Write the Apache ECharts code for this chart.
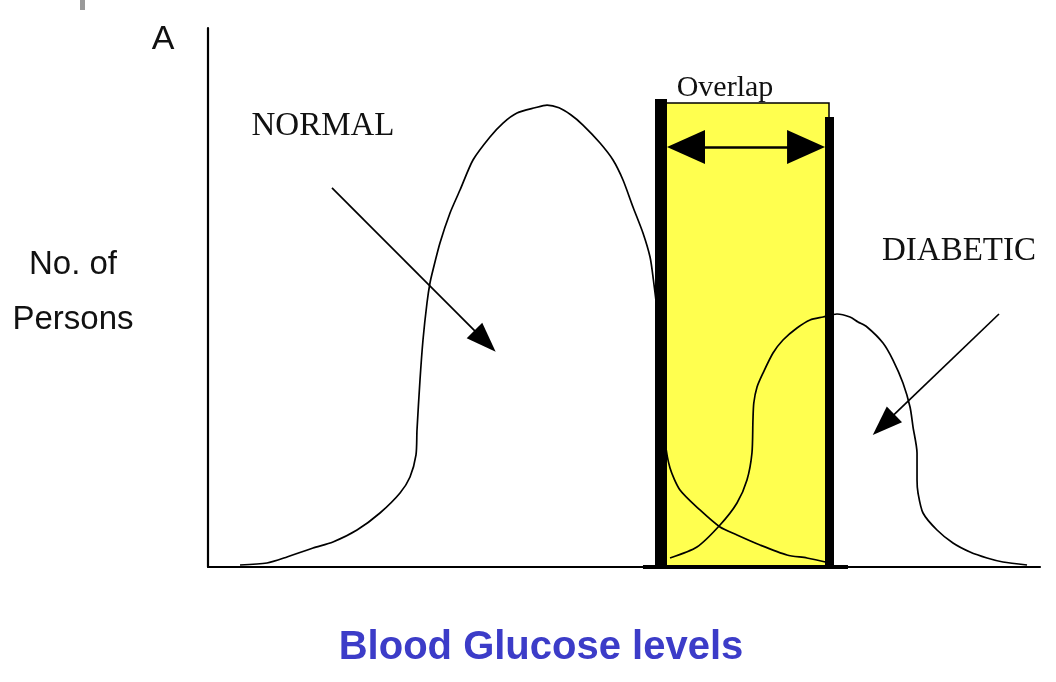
<!DOCTYPE html>
<html>
<head>
<meta charset="utf-8">
<script src="https://cdn.jsdelivr.net/npm/echarts@6/dist/echarts.min.js"></script>
<style>
html,body{margin:0;padding:0;background:#fff;}
#chart{width:1056px;height:682px;}
</style>
</head>
<body>
<div id="chart"></div>
<script>
// Normal population distribution (x = blood glucose, y = no. of persons), arbitrary units 0-100
const normalCurve = [
  [3.85,0.37],[7.09,0.74],[9.50,1.86],[12.62,3.53],[15.02,4.64],[17.91,6.86],[20.67,10.02],
  [23.08,13.73],[24.28,16.70],[25.00,20.78],[25.12,25.42],[25.48,34.69],[25.84,42.12],
  [26.32,48.98],[26.68,52.69],[27.04,55.10],[27.88,60.11],[29.09,65.68],[30.29,69.94],
  [31.85,75.51],[33.89,79.78],[35.46,82.37],[37.14,84.23],[39.30,85.20],[40.75,85.70],
  [42.19,85.20],[43.60,83.90],[45.07,82.00],[47.12,78.66],[48.68,75.51],[49.88,71.80],[51.08,66.79],
  [52.28,61.97],[53.13,57.51],[53.49,53.80],[54.09,45.83],[54.57,32.84],[54.93,23.56],
  [55.53,18.37],[56.73,14.29],[59.13,10.58],[61.54,7.42],[63.58,5.94],[66.35,4.08],
  [69.59,2.23],[71.99,1.67],[74.76,0.74]
];
// Diabetic population distribution
const diabeticCurve = [
  [55.53,1.67],[58.77,3.71],[61.54,7.79],[63.58,11.87],[64.78,16.14],[65.38,21.15],
  [65.50,27.27],[65.60,30.43],[65.99,33.40],[66.71,35.99],[67.91,39.70],[69.11,42.12],
  [70.79,44.34],[72.36,45.83],[73.92,46.38],[75.60,46.94],[77.16,46.38],[78.13,45.45],
  [79.21,44.53],[81.13,41.56],[82.33,38.40],[83.53,34.14],[84.38,29.68],[84.74,25.97],
  [85.22,21.15],[85.22,16.14],[85.34,13.73],[85.94,10.02],[87.62,6.86],[89.54,4.45],
  [91.59,2.78],[93.63,1.67],[95.55,0.93],[98.44,0.37]
];
// Overlap band (x range), box top, bar tops, double-arrow level, thick base
const overlapX = [54.45, 74.64];
const overlapBoxTop = 86.09;
const overlapBarTop = [86.83, 83.49];
const overlapArrowX = [57.45, 71.88];
const overlapArrowY = 77.92;
const overlapBaseX = [52.28, 76.92];
// Pointer arrows [start, end]
const normalArrow = [[14.90, 70.32], [33.30, 41.90]];
const diabeticArrow = [[95.07, 46.94], [81.20, 26.40]];
// Texts
const yAxisTitle = 'No. of\nPersons';
const xAxisTitle = 'Blood Glucose levels';
const normalLabel = 'NORMAL';
const diabeticLabel = 'DIABETIC';
const overlapLabel = 'Overlap';
const cornerLabel = 'A';

const chart = echarts.init(document.getElementById('chart'));
const serifFont = '"Liberation Serif", "DejaVu Serif", serif';
chart.setOption({
  animation: false,
  backgroundColor: '#ffffff',
  grid: { left: 208, right: 16, top: 28, bottom: 115 },
  xAxis: {
    type: 'value', min: 0, max: 100,
    axisLine: { show: true, onZero: false, lineStyle: { color: '#000', width: 2.2 } },
    axisTick: { show: false }, axisLabel: { show: false }, splitLine: { show: false }
  },
  yAxis: {
    type: 'value', min: 0, max: 100,
    axisLine: { show: true, onZero: false, lineStyle: { color: '#000', width: 2.2 } },
    axisTick: { show: false }, axisLabel: { show: false }, splitLine: { show: false }
  },
  series: [
    {
      type: 'line', name: 'band', data: [], z: 1, silent: true,
      markArea: {
        silent: true,
        itemStyle: { color: '#FFFF4F', borderColor: '#000', borderWidth: 1.5 },
        data: [[{ coord: [overlapX[0], 0] }, { coord: [overlapX[1], overlapBoxTop] }]]
      }
    },
    {
      type: 'line', name: 'Normal', data: normalCurve, smooth: 0.25, symbol: 'none', z: 3,
      lineStyle: { color: '#000', width: 1.7 }
    },
    {
      type: 'line', name: 'Diabetic', data: diabeticCurve, smooth: 0.25, symbol: 'none', z: 3,
      lineStyle: { color: '#000', width: 1.7 }
    },
    {
      type: 'line', name: 'annotations', data: [], z: 5, silent: true,
      markLine: {
        silent: true,
        animation: false,
        label: { show: false },
        symbol: 'none',
        lineStyle: { color: '#000', type: 'solid' },
        data: [
          [{ coord: [overlapX[0], 0], symbol: 'none', lineStyle: { width: 12, color: '#000', type: 'solid', cap: 'butt' } },
           { coord: [overlapX[0], overlapBarTop[0]], symbol: 'none' }],
          [{ coord: [overlapX[1], 0], symbol: 'none', lineStyle: { width: 9, color: '#000', type: 'solid', cap: 'butt' } },
           { coord: [overlapX[1], overlapBarTop[1]], symbol: 'none' }],
          [{ coord: [overlapBaseX[0], 0], symbol: 'none', lineStyle: { width: 4, color: '#000', type: 'solid', cap: 'butt' } },
           { coord: [overlapBaseX[1], 0], symbol: 'none' }],
          [{ coord: [overlapArrowX[0], overlapArrowY], symbol: 'triangle', symbolSize: [34, 38], lineStyle: { width: 2.5, color: '#000', type: 'solid' } },
           { coord: [overlapArrowX[1], overlapArrowY], symbol: 'triangle', symbolSize: [34, 38] }],
          [{ coord: normalArrow[0], symbol: 'none', lineStyle: { width: 1.7, color: '#000', type: 'solid' } },
           { coord: normalArrow[1], symbol: 'triangle', symbolSize: [22, 30] }],
          [{ coord: diabeticArrow[0], symbol: 'none', lineStyle: { width: 1.7, color: '#000', type: 'solid' } },
           { coord: diabeticArrow[1], symbol: 'triangle', symbolSize: [22, 30] }]
        ]
      }
    }
  ],
  graphic: [
    { type: 'rect', shape: { x: 80, y: 0, width: 5, height: 10 }, style: { fill: '#9a9a9a' } },
    { type: 'text', x: 163, y: 40, style: { text: cornerLabel, font: '34px "Liberation Sans", Arial, sans-serif', fill: '#111', align: 'center', verticalAlign: 'middle' } },
    { type: 'text', x: 73, y: 292, style: { text: yAxisTitle, font: '33px "Liberation Sans", Arial, sans-serif', lineHeight: 55, fill: '#111', align: 'center', verticalAlign: 'middle' } },
    { type: 'text', x: 323, y: 126, style: { text: normalLabel, font: '33px ' + serifFont, fill: '#111', align: 'center', verticalAlign: 'middle' } },
    { type: 'text', x: 959, y: 251, style: { text: diabeticLabel, font: '33px ' + serifFont, fill: '#111', align: 'center', verticalAlign: 'middle' } },
    { type: 'text', x: 725, y: 88, style: { text: overlapLabel, font: '30px ' + serifFont, fill: '#111', align: 'center', verticalAlign: 'middle' } },
    { type: 'text', x: 541, y: 648, style: { text: xAxisTitle, font: 'bold 40px "Liberation Sans", Arial, sans-serif', fill: '#3C3CC8', align: 'center', verticalAlign: 'middle' } }
  ]
});
</script>
</body>
</html>
